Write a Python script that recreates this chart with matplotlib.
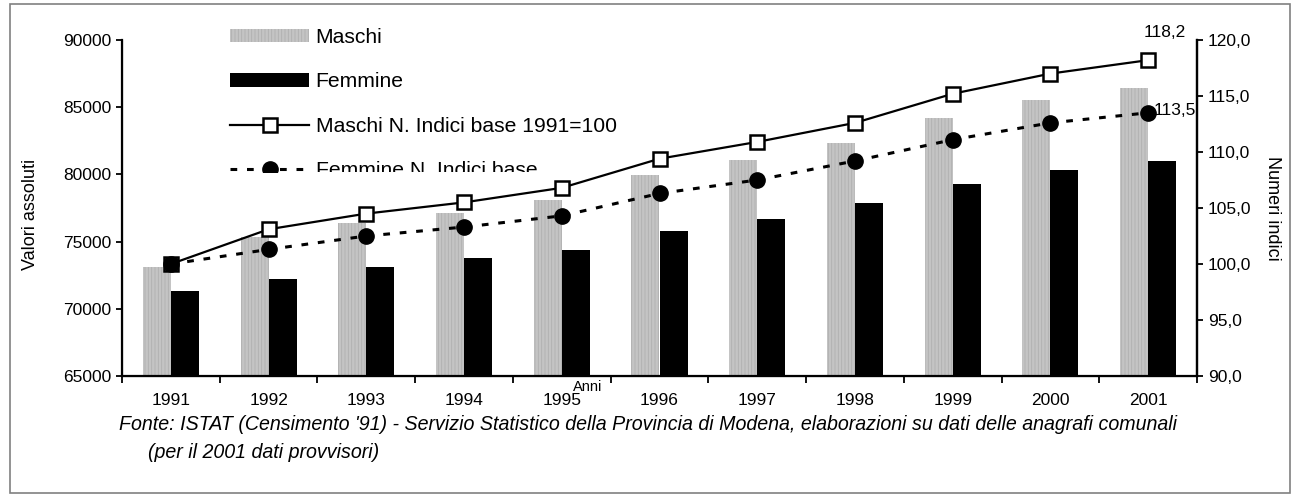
import matplotlib
matplotlib.use("Agg")
import matplotlib.pyplot as plt
import numpy as np
from matplotlib.patches import Rectangle
from matplotlib.transforms import Bbox, TransformedBbox

plt.rcParams['font.family'] = ['Liberation Sans', 'DejaVu Sans']
plt.rcParams['hatch.linewidth'] = 0.6

anni = ['1991', '1992', '1993', '1994', '1995', '1996', '1997', '1998', '1999', '2000', '2001']
maschi = [73100, 75350, 76400, 77150, 78100, 79950, 81050, 82350, 84200, 85550, 86400]
femmine = [71350, 72250, 73100, 73750, 74400, 75800, 76700, 77900, 79300, 80350, 81000]
indice_m = [100.0, 103.1, 104.5, 105.5, 106.8, 109.4, 110.9, 112.6, 115.2, 117.0, 118.2]
indice_f = [100.0, 101.3, 102.5, 103.3, 104.3, 106.3, 107.5, 109.2, 111.1, 112.6, 113.5]
left_ticks = [65000, 70000, 75000, 80000, 85000, 90000]
right_ticks = [90, 95, 100, 105, 110, 115, 120]

W, H = 1294, 497
fig = plt.figure(figsize=(W / 100, H / 100), dpi=100)
ax = fig.add_axes([122 / W, (H - 376) / H, (1197 - 122) / W, 336 / H])
ax2 = ax.twinx()

x = np.arange(len(anni))
bw = 0.287
b1 = ax.bar(x - bw / 2, maschi, bw, color='#c4c4c4', edgecolor='#b0b0b0', hatch='|||||',
            linewidth=0, label='Maschi', zorder=2)
b2 = ax.bar(x + bw / 2, femmine, bw, color='black', linewidth=0, label='Femmine', zorder=2)

ax.set_xlim(-0.5, len(anni) - 0.5)
ax.set_ylim(65000, 90000)
ax.set_yticks(left_ticks)
ax.set_yticklabels([str(v) for v in left_ticks])
ax.set_xticks(np.arange(-0.5, len(anni), 1.0))
ax.set_xticklabels([])
ax.set_xticks(x, minor=True)
ax.set_xticklabels(anni, minor=True)
ax.tick_params(axis='x', which='major', direction='out', length=5, width=1.3, color='black')
ax.tick_params(axis='x', which='minor', length=0, pad=12.5, labelsize=12.5)
ax.tick_params(axis='y', direction='out', length=4, width=1.3, pad=3.5, labelsize=12.5)
ax.spines['top'].set_visible(False)
for s in ['left', 'bottom', 'right']:
    ax.spines[s].set_linewidth(1.6)

ax2.set_ylim(90, 120)
ax2.set_yticks(right_ticks)
ax2.set_yticklabels([f"{v:.1f}".replace('.', ',') for v in right_ticks])
ax2.tick_params(axis='y', direction='out', length=4, width=1.3, pad=4, labelsize=12.5)
ax2.spines['top'].set_visible(False)
ax2.spines['right'].set_linewidth(1.6)

l1, = ax2.plot(x, indice_m, color='black', lw=1.6, marker='s', markersize=10,
               markerfacecolor='white', markeredgecolor='black', markeredgewidth=1.8,
               label='Maschi N. Indici base 1991=100', zorder=3)
l2, = ax2.plot(x, indice_f, color='black', lw=2.2, linestyle=(0, (2.2, 3.2)), marker='o',
               markersize=11, markerfacecolor='black', markeredgecolor='black',
               label='Femmine N. Indici base', zorder=4)

ax2.annotate(f"{indice_m[-1]:.1f}".replace('.', ','), (x[-1], indice_m[-1]),
             xytext=(12, 20), textcoords='offset points', ha='center', va='center', fontsize=12.5)
ax2.annotate(f"{indice_f[-1]:.1f}".replace('.', ','), (x[-1], indice_f[-1]),
             xytext=(19, 2), textcoords='offset points', ha='center', va='center', fontsize=12.5)

ax.set_ylabel('Valori assoluti', fontsize=13)
ax.yaxis.set_label_coords(-0.077, 0.48)
ax2.set_ylabel('Numeri indici', fontsize=13, rotation=270, va='bottom')
ax2.yaxis.set_label_coords(1.062, 0.5)

fig.text(588 / W, 1 - 387 / H, 'Anni', fontsize=10.5, ha='center', va='center')

leg = fig.legend(handles=[b1, b2, l1, l2], loc='upper left',
                 bbox_to_anchor=(230 / W, 1 - 28 / H), frameon=False, fontsize=15.2,
                 handlelength=3.75, handleheight=0.6, handletextpad=0.3,
                 labelspacing=1.2, borderpad=0, borderaxespad=0)
clipbb = TransformedBbox(Bbox([[0, 1 - 171.5 / H], [1, 1]]), fig.transFigure)
for a in leg.findobj():
    try:
        a.set_clip_box(clipbb)
        a.set_clip_on(True)
    except Exception:
        pass

fig.text(119 / W, 1 - 425 / H,
         "Fonte: ISTAT (Censimento '91) - Servizio Statistico della Provincia di Modena, "
         "elaborazioni su dati delle anagrafi comunali",
         fontsize=14.1, style='italic', ha='left', va='center')
fig.text(148 / W, 1 - 452 / H, "(per il 2001 dati provvisori)",
         fontsize=14.1, style='italic', ha='left', va='center')

fig.patches.append(Rectangle((10 / W, 4 / H), 1280 / W, 489 / H, transform=fig.transFigure,
                             fill=False, edgecolor='#808080', linewidth=1.2))

fig.savefig('out.png', dpi=100)
